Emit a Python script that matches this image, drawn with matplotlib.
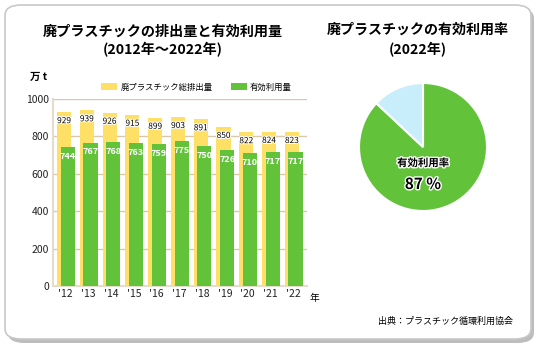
import matplotlib
matplotlib.use("Agg")
import matplotlib.pyplot as plt
import matplotlib.patheffects as pe
from matplotlib.patches import FancyBboxPatch
import numpy as np

plt.rcParams['font.family'] = ['Noto Sans CJK JP', 'DejaVu Sans']

years = ["'12", "'13", "'14", "'15", "'16", "'17", "'18", "'19", "'20", "'21", "'22"]
total = [929, 939, 926, 915, 899, 903, 891, 850, 822, 824, 823]
used = [744, 767, 768, 763, 759, 775, 750, 726, 710, 717, 717]
rate_2022 = 87
pie_vals = [rate_2022, 100 - rate_2022]

YELLOW = '#FFE066'
GREEN = '#62C33B'
BLUE = '#C8EEFB'
GRID = '#D8C9AE'

fig = plt.figure(figsize=(5.4, 3.51), dpi=100)
W, H = 540, 351

def fx(px):
    return px / W

def fy(py):
    return 1 - py / H

# panel with shadow
shadow = FancyBboxPatch((fx(8), fy(343)), fx(526), fy(8) - fy(343),
                        boxstyle='round,pad=0,rounding_size=0.03',
                        transform=fig.transFigure, facecolor='#BDBDBD',
                        edgecolor='none', zorder=0)
panel = FancyBboxPatch((fx(5), fy(339)), fx(526), fy(5) - fy(339),
                       boxstyle='round,pad=0,rounding_size=0.03',
                       transform=fig.transFigure, facecolor='white',
                       edgecolor='#C8C8C8', linewidth=1.2, zorder=1)
fig.patches.extend([shadow, panel])

# bar chart
ax = fig.add_axes([fx(53), fy(286), fx(307) - fx(53), fy(99) - fy(286)])
ax.set_zorder(2)
x = np.arange(len(years))
w = 0.62
off = 0.13
ax.bar(x - off / 2, total, width=w, color=YELLOW, zorder=2)
ax.bar(x + off / 2 + 0.03, used, width=w, color=GREEN, zorder=3)
for xi, t, u in zip(x, total, used):
    ax.text(xi - off / 2, t - 45, str(t), ha='center', va='center', fontsize=6,
            color='black', zorder=5,
            path_effects=[pe.withStroke(linewidth=1.5, foreground='white')])
    ax.text(xi + off / 2 + 0.03, u - 50, str(u), ha='center', va='center', fontsize=6.5,
            color='white', fontweight='bold', zorder=5)
ax.set_xlim(-0.55, 10.6)
ax.set_ylim(0, 1000)
ax.set_yticks(range(0, 1001, 200))
ax.set_xticks(x)
ax.set_xticklabels(years)
ax.yaxis.grid(True, color=GRID, linewidth=1, zorder=0)
ax.set_axisbelow(True)
for s in ['top', 'right']:
    ax.spines[s].set_visible(False)
ax.spines['left'].set_color('#E5DCCB')
ax.spines['bottom'].set_color('#E5DCCB')
ax.spines['left'].set_linewidth(1.5)
ax.spines['bottom'].set_linewidth(1.5)
ax.tick_params(length=0, labelsize=7.5, pad=3, colors='#222222')
ax.tick_params(axis='x', pad=2)

fig.text(fx(39), fy(77), '万 t', fontsize=7.5, ha='center', va='center', fontweight='bold')
fig.text(fx(314), fy(298), '年', fontsize=7, ha='center', va='center')

# legend
fig.patches.append(FancyBboxPatch((fx(101), fy(90)), fx(16), fy(83) - fy(90),
                                  boxstyle='square,pad=0', transform=fig.transFigure,
                                  facecolor=YELLOW, edgecolor='none', zorder=3))
fig.text(fx(121), fy(87), '廃プラスチック総排出量', fontsize=6, ha='left', va='center')
fig.patches.append(FancyBboxPatch((fx(231), fy(90)), fx(16), fy(83) - fy(90),
                                  boxstyle='square,pad=0', transform=fig.transFigure,
                                  facecolor=GREEN, edgecolor='none', zorder=3))
fig.text(fx(250), fy(87), '有効利用量', fontsize=6, ha='left', va='center')

fig.text(fx(163), fy(32), '廃プラスチックの排出量と有効利用量', fontsize=10.2,
         fontweight='bold', ha='center', va='center')
fig.text(fx(163), fy(50), '(2012年～2022年)', fontsize=10.2,
         fontweight='bold', ha='center', va='center')

# pie chart
r = 64
pax = fig.add_axes([fx(423 - r), fy(147 + r), fx(2 * r), fy(147 - r) - fy(147 + r)])
pax.set_zorder(2)
pax.pie(pie_vals, colors=[GREEN, BLUE], startangle=90, counterclock=False,
        wedgeprops=dict(edgecolor='white', linewidth=1.5), radius=1)
pax.set_xlim(-1.0, 1.0)
pax.set_ylim(-1.0, 1.0)
pax.set_aspect('equal')
pax.axis('off')

fig.text(fx(423), fy(163), '有効利用率', fontsize=7.5, ha='center', va='center',
         fontweight='bold',
         path_effects=[pe.withStroke(linewidth=2, foreground='white')])
fig.text(fx(423), fy(184), f'{rate_2022} %', fontsize=11, fontweight='bold',
         ha='center', va='center',
         path_effects=[pe.withStroke(linewidth=2, foreground='white')])

fig.text(fx(418), fy(30), '廃プラスチックの有効利用率', fontsize=10.1,
         fontweight='bold', ha='center', va='center')
fig.text(fx(418), fy(50), '(2022年)', fontsize=10.1,
         fontweight='bold', ha='center', va='center')

fig.text(fx(513), fy(321), '出典：プラスチック循環利用協会', fontsize=6.5,
         ha='right', va='center')

fig.savefig('out.png', dpi=100, facecolor='white')
